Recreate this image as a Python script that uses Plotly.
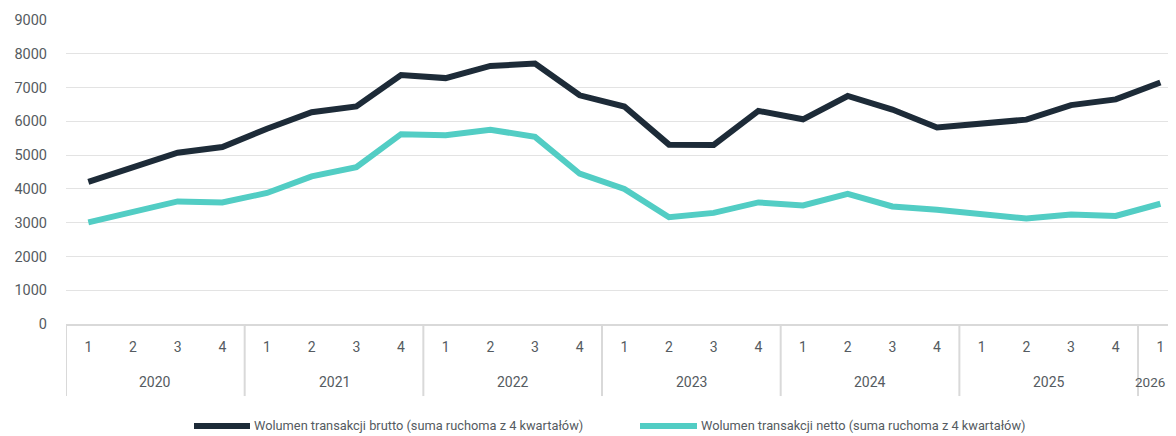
import plotly.graph_objects as go

years = ["2020"] * 4 + ["2021"] * 4 + ["2022"] * 4 + ["2023"] * 4 + ["2024"] * 4 + ["2025"] * 4 + ["2026"]
quarters = ["1", "2", "3", "4"] * 6 + ["1"]

brutto = [4210, 4640, 5070, 5240,
          5780, 6270, 6440, 7370,
          7280, 7640, 7710, 6770,
          6440, 5310, 5300, 6310,
          6060, 6750, 6350, 5820,
          5940, 6050, 6480, 6650,
          7150]
netto = [3010, 3320, 3630, 3600,
         3880, 4370, 4640, 5620,
         5590, 5750, 5540, 4450,
         4000, 3160, 3290, 3600,
         3510, 3850, 3480, 3380,
         3270, 3120, 3240, 3200,
         3560]

name_brutto = "Wolumen transakcji brutto (suma ruchoma z 4 kwartałów)"
name_netto = "Wolumen transakcji netto (suma ruchoma z 4 kwartałów)"

COL_B = "#1d2b38"
COL_N = "#52cdc4"
FONT = "Roboto, Liberation Sans, sans-serif"
TXT = "#555b61"
GRID = "#e3e3e3"
DIV = "#d9d9d9"

cats = [f"{y} Q{q}" for y, q in zip(years, quarters)]

fig = go.Figure()
fig.add_trace(go.Scatter(x=cats, y=brutto, mode="lines", name=name_brutto,
                         line=dict(color=COL_B, width=6), showlegend=False))
fig.add_trace(go.Scatter(x=cats, y=netto, mode="lines", name=name_netto,
                         line=dict(color=COL_N, width=6), showlegend=False))

# year groups: labels and dividers
groups = []
for i, y in enumerate(years):
    if not groups or groups[-1][0] != y:
        groups.append([y, i, i])
    else:
        groups[-1][2] = i

X_VISIBLE_MAX = 24.15  # right edge of the visible part of the axis
annotations = []
shapes = []
for y, s, e in groups:
    cx = (s + e) / 2
    anchor = "center"
    size = 14
    if cx + 0.35 > X_VISIBLE_MAX:   # keep last (partial) group label inside the picture
        cx, anchor, size = X_VISIBLE_MAX, "right", 13.5
    annotations.append(dict(x=cx, y=-0.19, xref="x", yref="paper", text=y,
                            showarrow=False, yanchor="middle", xanchor=anchor,
                            font=dict(family=FONT, size=size, color=TXT)))
    shapes.append(dict(type="line", xref="x", yref="paper", x0=s - 0.5, x1=s - 0.5,
                       y0=0, y1=-0.237, line=dict(color=DIV, width=2), layer="above"))

# custom legend (long line symbols); positions in page pixels relative to plot left (66)
PW = 1110.0
def px_to_paper(px):
    return (px - 66) / PW

LEG_Y = -0.3355
for col, name, x0, x1 in [(COL_B, name_brutto, 194, 250), (COL_N, name_netto, 640, 697)]:
    shapes.append(dict(type="line", xref="paper", yref="paper", x0=px_to_paper(x0), x1=px_to_paper(x1),
                       y0=LEG_Y, y1=LEG_Y, line=dict(color=col, width=6)))
    annotations.append(dict(x=px_to_paper(x1 + 2), y=LEG_Y, xref="paper", yref="paper", text=name,
                            showarrow=False, xanchor="left", yanchor="middle",
                            font=dict(family=FONT, size=12.8, color=TXT)))

fig.update_layout(
    width=1168, height=428,
    margin=dict(l=58, r=0, t=12, b=112),
    paper_bgcolor="white", plot_bgcolor="white",
    font=dict(family=FONT, size=14, color=TXT),
    hovermode=False,
    showlegend=False,
    annotations=annotations,
    shapes=shapes,
)
fig.update_yaxes(range=[0, 9000], dtick=1000, showgrid=True, gridcolor=GRID, gridwidth=1,
                 zeroline=False, showline=False, ticklabelstandoff=18, automargin=False,
                 tickfont=dict(family=FONT, size=14.5, color=TXT))
fig.update_xaxes(type="category", range=[-0.5, 24.35], showgrid=False, automargin=False,
                 tickmode="array", tickvals=cats, ticktext=quarters,
                 showline=True, linecolor=DIV, linewidth=2, ticklabelstandoff=9,
                 tickfont=dict(family=FONT, size=14, color=TXT))

fig.write_html("out.html")
